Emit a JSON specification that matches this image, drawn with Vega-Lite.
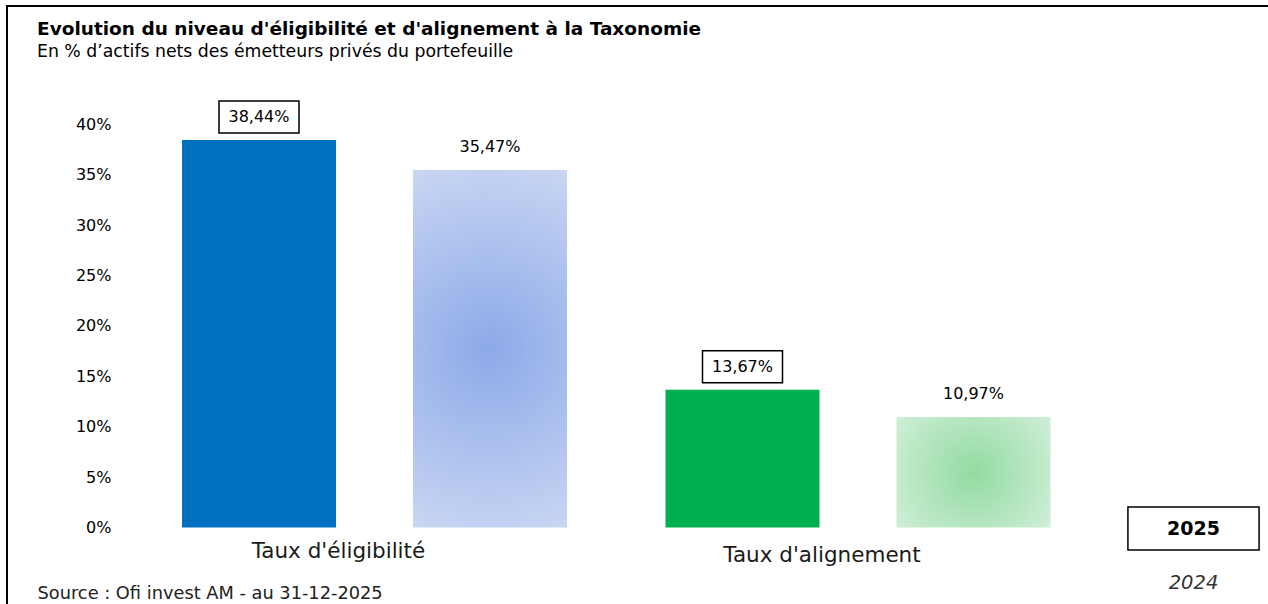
{
  "$schema": "https://vega.github.io/schema/vega-lite/v6.json",
  "width": 1263,
  "height": 600,
  "autosize": {"type": "none"},
  "padding": {"left": 7, "top": 6, "right": -2, "bottom": -2},
  "background": "white",
  "title": {
    "text": "Evolution du niveau d'éligibilité et d'alignement à la Taxonomie",
    "subtitle": "En % d’actifs nets des émetteurs privés du portefeuille",
    "anchor": "start",
    "frame": "group",
    "dx": 30,
    "dy": 54,
    "offset": 0,
    "font": "DejaVu Sans",
    "fontSize": 18.5,
    "fontWeight": "bold",
    "color": "#000000",
    "subtitleFont": "DejaVu Sans",
    "subtitleFontSize": 17.3,
    "subtitleColor": "#000000",
    "subtitlePadding": 4
  },
  "config": {
    "view": {"stroke": "#000000", "strokeWidth": 2},
    "locale": {"number": {"decimal": ",", "thousands": " ", "grouping": [3], "currency": ["", " €"]}}
  },
  "data": {
    "values": [
      {"categorie": "Taux d'éligibilité", "annee": "2025", "valeur": 0.3844},
      {"categorie": "Taux d'éligibilité", "annee": "2024", "valeur": 0.3547},
      {"categorie": "Taux d'alignement", "annee": "2025", "valeur": 0.1367},
      {"categorie": "Taux d'alignement", "annee": "2024", "valeur": 0.1097}
    ]
  },
  "encoding": {
    "x": {
      "field": "categorie",
      "type": "nominal",
      "sort": ["Taux d'éligibilité", "Taux d'alignement"],
      "scale": {"paddingInner": 0, "paddingOuter": 0.3061, "align": 0.4248},
      "axis": {
        "orient": "bottom",
        "offset": -57,
        "domain": false,
        "ticks": false,
        "grid": false,
        "labelAngle": 0,
        "labelFont": "DejaVu Sans",
        "labelFontSize": 21.5,
        "labelLimit": 500,
        "labelColor": "#1a1a1a",
        "labelOffset": -36,
        "labelBaseline": "alphabetic",
        "labelPadding": {"condition": {"test": "datum.value === \"Taux d'alignement\"", "value": 12}, "value": 8},
        "title": "Source : Ofi invest AM - au 31-12-2025",
        "titleFont": "DejaVu Sans",
        "titleFontSize": 17.8,
        "titleFontWeight": "normal",
        "titleColor": "#222222",
        "titleX": 30,
        "titleY": 49,
        "titleAlign": "left",
        "titleAnchor": "start",
        "titleBaseline": "alphabetic"
      }
    },
    "xOffset": {
      "field": "annee",
      "type": "nominal",
      "sort": ["2025", "2024"],
      "scale": {"paddingInner": 0.3333, "paddingOuter": 0.2132}
    },
    "y": {
      "field": "valeur",
      "type": "quantitative",
      "scale": {"domain": [-0.077877, 0.51736], "zero": false, "nice": false},
      "axis": {
        "values": [0, 0.05, 0.1, 0.15, 0.2, 0.25, 0.3, 0.35, 0.4],
        "format": ".0%",
        "domain": false,
        "ticks": false,
        "grid": false,
        "title": null,
        "offset": -106,
        "labelPadding": 2,
        "labelFont": "DejaVu Sans",
        "labelFontSize": 16,
        "labelColor": "#000000"
      }
    }
  },
  "layer": [
    {
      "transform": [{"filter": "datum.annee === '2025'"}],
      "mark": {"type": "bar"},
      "encoding": {
        "y2": {"datum": 0},
        "color": {
          "field": "categorie",
          "type": "nominal",
          "scale": {"domain": ["Taux d'éligibilité", "Taux d'alignement"], "range": ["#0070C0", "#00B050"]},
          "legend": null
        }
      }
    },
    {
      "transform": [{"filter": "datum.annee === '2024' && datum.categorie === \"Taux d'éligibilité\""}],
      "mark": {
        "type": "bar",
        "color": {
          "gradient": "radial",
          "x1": 0.5, "y1": 0.5, "r1": 0,
          "x2": 0.5, "y2": 0.5, "r2": 0.7,
          "stops": [{"offset": 0, "color": "#8CA9E8"}, {"offset": 1, "color": "#DAE3F6"}]
        }
      },
      "encoding": {"y2": {"datum": 0}}
    },
    {
      "transform": [{"filter": "datum.annee === '2024' && datum.categorie === \"Taux d'alignement\""}],
      "mark": {
        "type": "bar",
        "color": {
          "gradient": "radial",
          "x1": 0.5, "y1": 0.5, "r1": 0,
          "x2": 0.5, "y2": 0.5, "r2": 0.7,
          "stops": [{"offset": 0, "color": "#93DBA2"}, {"offset": 1, "color": "#D8F1DE"}]
        }
      },
      "encoding": {"y2": {"datum": 0}}
    },
    {
      "mark": {
        "type": "point",
        "shape": "M-1,-0.4H1V0.4H-1Z",
        "size": 6400,
        "filled": false,
        "strokeWidth": 1.5,
        "opacity": 1,
        "yOffset": -23
      },
      "encoding": {
        "stroke": {
          "field": "annee",
          "type": "nominal",
          "scale": {"domain": ["2025", "2024"], "range": ["#000000", "rgba(0,0,0,0)"]},
          "legend": {
            "title": null,
            "values": ["2025"],
            "orient": "none",
            "legendX": 1164,
            "legendY": 500,
            "direction": "vertical",
            "padding": 0,
            "symbolType": "M-3.05,-1H3.05V1H-3.05Z",
            "symbolSize": 1849,
            "symbolStrokeWidth": 1.5,
            "symbolFillColor": "transparent",
            "labelFont": "DejaVu Sans",
            "labelFontSize": 19,
            "labelFontWeight": "bold",
            "labelAlign": "center",
            "labelOffset": -22.5,
            "labelColor": "#000000"
          }
        }
      }
    },
    {
      "mark": {
        "type": "text",
        "dy": -23,
        "baseline": "middle",
        "font": "DejaVu Sans",
        "fontSize": 16
      },
      "encoding": {
        "text": {"field": "valeur", "type": "quantitative", "format": ".2%"},
        "fill": {
          "field": "annee",
          "type": "nominal",
          "scale": {"domain": ["2024", "2025"], "range": ["#000000", "#000000"]},
          "legend": {
            "title": null,
            "values": ["2024"],
            "orient": "none",
            "legendX": 1164,
            "legendY": 554,
            "direction": "vertical",
            "padding": 0,
            "symbolType": "M-3.05,-1H3.05V1H-3.05Z",
            "symbolSize": 1849,
            "symbolStrokeWidth": 1.5,
            "symbolOpacity": 0,
            "labelFont": "DejaVu Sans",
            "labelFontSize": 19.5,
            "labelFontStyle": "italic",
            "labelFontWeight": "normal",
            "labelAlign": "center",
            "labelOffset": -22.5,
            "labelColor": "#333333"
          }
        }
      }
    }
  ]
}
